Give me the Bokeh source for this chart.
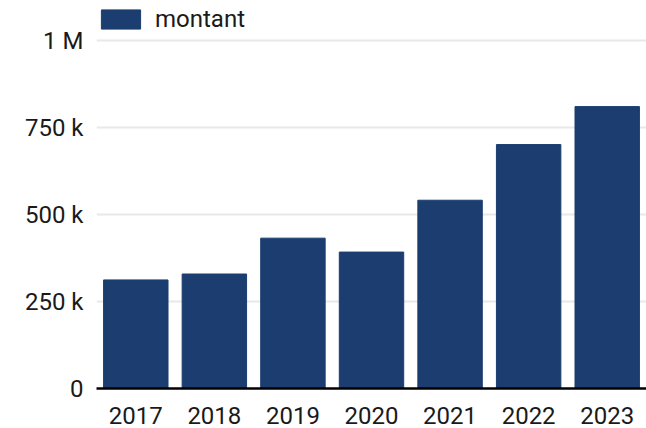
from bokeh.plotting import figure
from bokeh.models import ColumnDataSource, FixedTicker, Legend, LegendItem, Range1d
from bokeh.embed import file_html
from bokeh.resources import INLINE

years = ["2017", "2018", "2019", "2020", "2021", "2022", "2023"]
montant = [312000, 329000, 432000, 392000, 541000, 701000, 810000]
tick_values = [0, 250000, 500000, 750000, 1000000]
tick_labels = ["0", "250 k", "500 k", "750 k", "1 M"]
series_name = "montant"

xpos = [i + 0.5 for i in range(len(years))]
src = ColumnDataSource(data=dict(x=xpos, y=montant, year=years))

p = figure(x_range=Range1d(0, 7), y_range=Range1d(0, 1114943), width=646, height=428,
           output_backend="svg", toolbar_location=None,
           min_border_left=96, min_border_right=0, min_border_top=0, min_border_bottom=40)
p.outline_line_color = None

r = p.vbar(x="x", top="y", width=0.82, source=src, color="#1b3d6f")

p.xgrid.grid_line_color = None
p.ygrid.grid_line_color = "#e8e8e8"
p.ygrid.grid_line_width = 2
p.ygrid.ticker = FixedTicker(ticks=tick_values)

p.yaxis.ticker = FixedTicker(ticks=tick_values)
p.yaxis.major_label_overrides = {v: l for v, l in zip(tick_values, tick_labels)}
p.yaxis.axis_line_color = None
p.yaxis.major_tick_line_color = None
p.yaxis.minor_tick_line_color = None
p.yaxis.major_label_standoff = 7
p.yaxis.major_label_text_font = "Roboto"
p.yaxis.major_label_text_font_size = "24px"
p.yaxis.major_label_text_color = "#1a1a1a"

p.xaxis.ticker = FixedTicker(ticks=xpos)
p.xaxis.major_label_overrides = {x: y for x, y in zip(xpos, years)}
p.xaxis.axis_line_color = "black"
p.xaxis.axis_line_width = 2.5
p.xaxis.major_tick_line_color = None
p.xaxis.minor_tick_line_color = None
p.xaxis.major_label_standoff = 12
p.xaxis.major_label_text_font = "Roboto"
p.xaxis.major_label_text_font_size = "24px"
p.xaxis.major_label_text_color = "#1a1a1a"

legend = Legend(items=[LegendItem(label=series_name, renderers=[r])],
                location=(0, 355), orientation="horizontal",
                glyph_width=49, glyph_height=24, padding=0, margin=0,
                label_standoff=10, spacing=0,
                label_text_font="Roboto", label_text_font_size="24px",
                label_text_color="#1a1a1a",
                border_line_color=None, background_fill_alpha=0)
p.add_layout(legend)

open("out.html", "w").write(file_html(p, INLINE))
